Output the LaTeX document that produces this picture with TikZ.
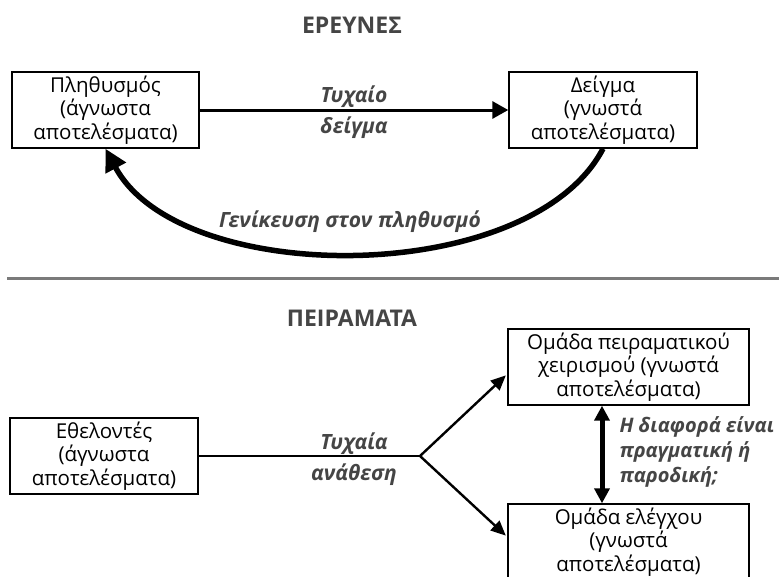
\documentclass[tikz,border=0pt]{standalone}
\usepackage{fontspec}
\setmainfont{Open Sans}
\usetikzlibrary{positioning,arrows.meta}
\definecolor{labelgrey}{HTML}{454545}
\definecolor{rulegrey}{HTML}{7A7A7A}

\begin{document}
\begin{tikzpicture}[
        x=1pt, y=-1pt,
        box/.style={rectangle, draw, line width=1.4pt, align=center, inner sep=0pt,
            font=\fontsize{20.5}{23.5}\selectfont},
        title/.style={font=\bfseries\fontsize{23}{26}\selectfont, text=labelgrey},
        label/.style={font=\bfseries\itshape\fontsize{21}{31}\selectfont, text=labelgrey, align=center},
        arrow/.style={line width=3pt, -{Triangle[length=16pt,width=17pt]}},
        thinarrow/.style={line width=2.4pt, -{Triangle[length=15pt,width=13pt]}}
    ]
        \useasboundingbox (0,0) rectangle (779,576);

        % Upper part: surveys
        \node[title] (surveys) at (352,25) {ΕΡΕΥΝΕΣ};
        \node[box, minimum width=187pt, minimum height=76pt] (pop) at (105.5,110)
            {Πληθυσμός\\(άγνωστα\\αποτελέσματα)};
        \node[box, minimum width=188pt, minimum height=76pt] (sample) at (603,110)
            {Δείγμα\\(γνωστά\\αποτελέσματα)};

        \draw[arrow] (pop.east) -- (sample.west);
        \node[label] (randsample) at (354,112) {Τυχαίο\\δείγμα};

        \draw[line width=5.5pt, -{Triangle[length=22pt,width=22pt]}]
            (sample.south) .. controls (530,288) and (180,288) .. (pop.south);
        \node[label] (general) at (350,222) {Γενίκευση στον πληθυσμό};

        % Separator
        \draw[rulegrey, line width=3pt] (7,278) -- (779,278);

        % Lower part: experiments
        \node[title] (experiments) at (352,318) {ΠΕΙΡΑΜΑΤΑ};
        \node[box, minimum width=188pt, minimum height=76pt] (volunteers) at (104,456)
            {Εθελοντές\\(άγνωστα\\αποτελέσματα)};
        \node[box, minimum width=241pt, minimum height=76pt] (treatgroup) at (628.5,367)
            {Ομάδα πειραματικού\\χειρισμού (γνωστά\\αποτελέσματα)};
        \node[box, minimum width=241pt, minimum height=76pt] (ctrlgroup) at (628.5,542)
            {Ομάδα ελέγχου\\(γνωστά\\αποτελέσματα)};

        \coordinate (fork) at (420,456);
        \draw[line width=2.6pt] (volunteers.east) -- (fork);
        \draw[thinarrow, shorten >=2pt] (fork) -- ([yshift=-7pt]treatgroup.west);
        \draw[thinarrow, shorten >=2pt] (fork) -- ([yshift=5pt]ctrlgroup.west);
        \node[label] (randassign) at (354,459) {Τυχαία\\ανάθεση};

        \draw[line width=5pt, {Triangle[length=15pt,width=15pt]}-{Triangle[length=15pt,width=15pt]}]
            ([xshift=-26.5pt]treatgroup.south) -- ([xshift=-26.5pt]ctrlgroup.north);
        \node[label, align=left, anchor=west, font=\bfseries\itshape\fontsize{20}{25}\selectfont]
            (question) at (616,452) {Η διαφορά είναι\\πραγματική ή\\παροδική;};
    \end{tikzpicture}
\end{document}
